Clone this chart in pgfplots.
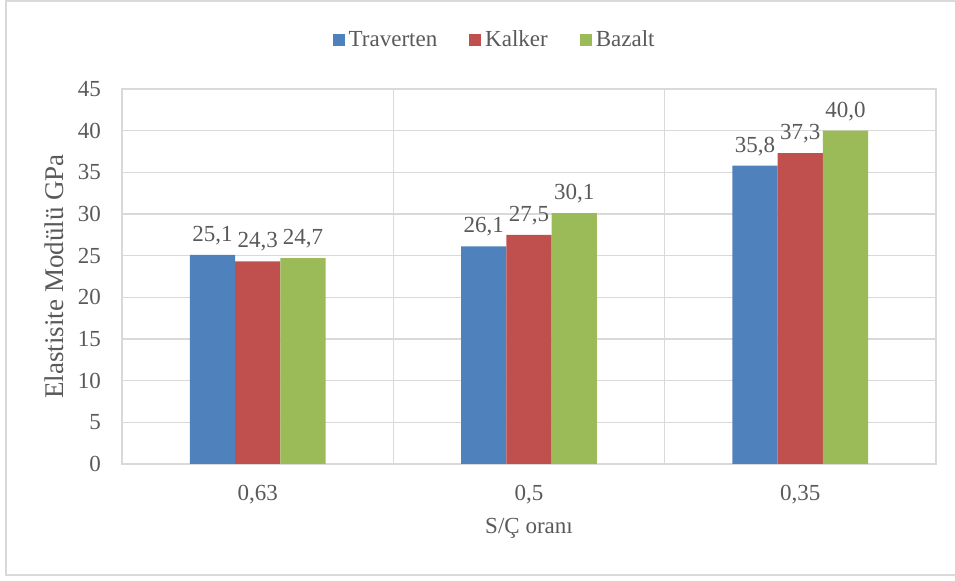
\documentclass[border=0pt]{standalone}
\usepackage{fontspec}
\setmainfont{Liberation Serif}
\usepackage{pgfplots}
\pgfplotsset{compat=1.18}
\definecolor{trav}{HTML}{4F81BD}
\definecolor{kalk}{HTML}{C0504D}
\definecolor{baza}{HTML}{9BBB59}
\definecolor{txt}{HTML}{595959}
\definecolor{gridc}{HTML}{D9D9D9}
\newcommand{\lbl}{\fontsize{11.5}{13}\selectfont}
\begin{document}
\begin{tikzpicture}
\useasboundingbox (-61pt,-58.5pt) rectangle (416.5pt,232pt);
% outer chart frame (right side runs off the picture)
\draw[gridc, line width=1pt] (416.5pt,231.25pt) -- (-58pt,231.25pt) -- (-58pt,-55.5pt) -- (416.5pt,-55.5pt);
\begin{axis}[
  at={(0pt,0pt)}, anchor=south west,
  scale only axis,
  width=407pt, height=187.5pt,
  xmin=-0.5, xmax=2.5,
  ymin=0, ymax=45,
  ybar=0pt, bar width=0.1667,
  xtick={0,1,2},
  xticklabels={{0,63},{0,5},{0,35}},
  ytick={0,5,...,45},
  /pgf/number format/assume math mode=true,
  major tick length=0pt,
  extra x ticks={0.5,1.5},
  extra x tick labels={},
  extra x tick style={xmajorgrids=true},
  ymajorgrids,
  grid style={gridc, line width=0.6pt},
  axis line style={gridc, line width=0.6pt},
  tick label style={font=\lbl, text=txt},
  yticklabel style={xshift=-7pt},
  xticklabel style={yshift=-7pt},
  xlabel={S/Ç oranı},
  xlabel style={at={(axis description cs:0.5,0)}, anchor=center, yshift=-32pt, font=\lbl, text=txt},
  ylabel={Elastisite Modülü GPa},
  ylabel style={at={(axis description cs:-0.0835,0.5)}, anchor=center, font=\fontsize{13.5}{15}\selectfont, text=txt},
  legend style={at={(axis description cs:0.459,1)}, anchor=center, yshift=24.5pt,
    draw=none, fill=none, font=\lbl, text=txt, legend columns=3,
    /tikz/every even column/.append style={column sep=14pt}},
  legend image code/.code={\fill[#1] (0pt,-3pt) rectangle (6pt,3pt);},
  nodes near coords,
  nodes near coords style={font=\lbl, text=txt, yshift=1.5pt,
    /pgf/number format/.cd, use comma, fixed, fixed zerofill, precision=1, assume math mode=true},
  clip=false,
]
\addplot[fill=trav, draw=none]
  coordinates {(0,25.1) (1,26.1) (2,35.8)};
\addplot[fill=kalk, draw=none]
  coordinates {(0,24.3) (1,27.5) (2,37.3)};
\addplot[fill=baza, draw=none]
  coordinates {(0,24.7) (1,30.1) (2,40.0)};
\legend{Traverten, Kalker, Bazalt}
\end{axis}
\end{tikzpicture}
\end{document}
